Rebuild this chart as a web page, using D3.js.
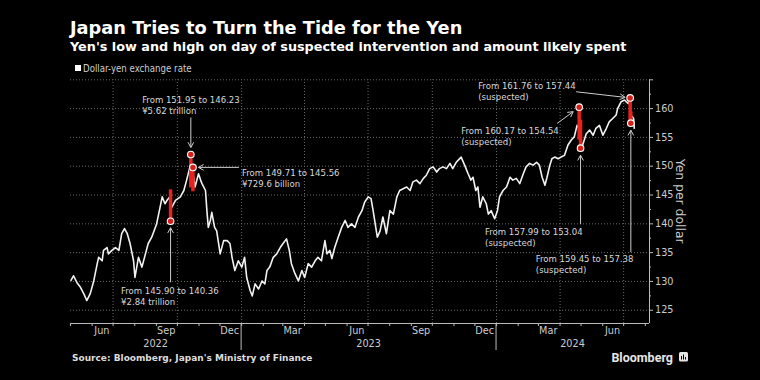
<!DOCTYPE html>
<html><head><meta charset="utf-8">
<script src="https://cdn.jsdelivr.net/npm/d3@7"></script>
<style>
html,body{margin:0;padding:0;background:#000;}
svg{display:block;background:#000;}
.cond{font-family:"DejaVu Sans Condensed","DejaVu Sans",sans-serif;font-stretch:condensed;}
.dv{font-family:"DejaVu Sans",sans-serif;}
</style></head>
<body>
<svg id="chart" width="760" height="380"></svg>
<script>
// ---------------- DATA ----------------
const dates = [
"2022-05-02","2022-05-06","2022-05-11","2022-05-16","2022-05-21","2022-05-25","2022-05-30","2022-06-04","2022-06-09","2022-06-11",
"2022-06-16","2022-06-18","2022-06-23","2022-06-25","2022-06-30","2022-07-05","2022-07-10","2022-07-14","2022-07-18","2022-07-22",
"2022-07-26","2022-07-31","2022-08-02","2022-08-07","2022-08-12","2022-08-17","2022-08-21","2022-08-26","2022-09-02","2022-09-07",
"2022-09-10","2022-09-14","2022-09-17","2022-09-21","2022-09-22","2022-09-29","2022-10-06","2022-10-11","2022-10-15","2022-10-20",
"2022-10-21","2022-10-24","2022-10-27","2022-11-01","2022-11-04","2022-11-06","2022-11-11","2022-11-13","2022-11-15","2022-11-18",
"2022-11-20","2022-11-24","2022-11-27","2022-12-02","2022-12-07","2022-12-12","2022-12-16","2022-12-19","2022-12-23","2022-12-28",
"2023-01-02","2023-01-06","2023-01-09","2023-01-14","2023-01-17","2023-01-21","2023-01-26","2023-01-31","2023-02-04","2023-02-07",
"2023-02-11","2023-02-16","2023-02-21","2023-02-26","2023-03-02","2023-03-07","2023-03-11","2023-03-14","2023-03-19","2023-03-24",
"2023-03-29","2023-04-02","2023-04-07","2023-04-12","2023-04-17","2023-04-21","2023-04-26","2023-05-01","2023-05-04","2023-05-08",
"2023-05-11","2023-05-15","2023-05-20","2023-05-25","2023-05-30","2023-06-03","2023-06-08","2023-06-13","2023-06-18","2023-06-23",
"2023-06-27","2023-07-02","2023-07-06","2023-07-09","2023-07-12","2023-07-15","2023-07-19","2023-07-23","2023-07-28","2023-08-02",
"2023-08-07","2023-08-12","2023-08-16","2023-08-21","2023-08-26","2023-08-31","2023-09-04","2023-09-09","2023-09-14","2023-09-19",
"2023-09-23","2023-09-28","2023-10-03","2023-10-08","2023-10-12","2023-10-17","2023-10-22","2023-10-27","2023-10-31","2023-11-05",
"2023-11-12","2023-11-17","2023-11-22","2023-11-26","2023-11-29","2023-12-03","2023-12-06","2023-12-09","2023-12-13","2023-12-18",
"2023-12-21","2023-12-25","2023-12-30","2024-01-03","2024-01-06","2024-01-11","2024-01-16","2024-01-21","2024-01-25","2024-01-30",
"2024-02-04","2024-02-09","2024-02-13","2024-02-18","2024-02-23","2024-02-28","2024-03-03","2024-03-07","2024-03-11","2024-03-14",
"2024-03-18","2024-03-21","2024-03-25","2024-03-30","2024-04-03","2024-04-08","2024-04-13","2024-04-18","2024-04-22","2024-04-26",
"2024-04-29","2024-04-30","2024-05-01","2024-05-03","2024-05-09","2024-05-14","2024-05-19","2024-05-23","2024-05-28","2024-06-02",
"2024-06-07","2024-06-11","2024-06-16","2024-06-21","2024-06-23","2024-06-28","2024-07-03","2024-07-08","2024-07-10","2024-07-11",
"2024-07-16","2024-07-17"
];
const rates = [
130.0,130.9,129.7,128.9,127.7,126.6,127.8,130.0,133.0,134.1,
133.5,135.3,135.8,134.7,135.3,135.8,135.3,138.2,139.1,138.2,
136.5,133.5,130.6,134.1,132.4,134.7,136.5,137.6,139.9,142.8,
144.6,143.4,144.0,144.6,142.4,144.0,144.6,145.7,147.5,149.9,
147.6,148.8,146.3,148.6,147.5,146.9,145.7,142.2,139.3,140.5,
141.9,139.3,138.7,134.7,137.0,137.0,136.5,134.1,131.8,133.5,
132.4,134.1,130.6,128.3,127.4,129.5,128.6,130.0,129.5,131.8,
132.4,134.1,134.7,135.8,136.5,137.3,135.3,133.0,131.3,130.0,
131.8,130.6,133.0,132.4,133.5,134.1,133.5,137.0,134.7,135.3,
133.9,135.8,137.6,139.3,140.5,139.3,139.9,139.3,141.1,142.2,
143.7,144.6,144.3,142.2,139.9,137.6,138.7,141.1,138.2,142.2,
141.6,144.6,145.7,146.0,146.3,145.7,147.2,147.5,146.9,147.8,
148.3,149.5,149.8,148.9,149.5,149.8,149.5,150.4,149.5,150.6,
151.5,150.1,148.6,147.5,148.0,145.7,146.3,142.8,144.6,143.4,
141.6,142.2,140.8,142.2,144.6,145.7,146.3,148.0,147.5,147.8,
146.9,148.6,149.8,150.4,150.1,150.6,150.1,148.0,146.6,148.0,
150.1,151.2,151.5,151.2,151.5,151.8,153.6,154.5,155.0,157.0,
156.4,157.6,155.2,153.2,155.5,156.2,155.3,156.5,157.0,155.3,
156.5,157.6,158.2,158.8,159.9,161.1,161.4,160.8,161.6,159.0,
158.2,156.4
];
// suspected / confirmed intervention days
const eventDates  = ["2022-09-22","2022-10-21","2022-10-24","2024-04-29","2024-05-01","2024-07-11","2024-07-12"];
const eventHigh   = [145.90,151.95,149.71,160.17,157.99,161.76,159.45];
const eventLow    = [140.36,146.23,145.56,154.54,153.04,157.44,157.38];
const eventNote   = ["¥2.84 trillion","¥5.62 trillion","¥729.6 billion","(suspected)","(suspected)","(suspected)","(suspected)"];
const eventMarker = ["low","high","high","high","low","high","low"];

const yTicks = [125,130,135,140,145,150,155,160,165];
const yTickLabels = ["125","130","135","140","145","150","155","160",""];
const monthLabelDates = ["2022-06-15","2022-09-15","2022-12-15","2023-03-15","2023-06-15","2023-09-15","2023-12-15","2024-03-15","2024-06-15"];
const monthLabels = ["Jun","Sep","Dec","Mar","Jun","Sep","Dec","Mar","Jun"];
const yearLabels = ["2022","2023","2024"];

const titleText = "Japan Tries to Turn the Tide for the Yen";
const subtitleText = "Yen's low and high on day of suspected intervention and amount likely spent";
const legendText = "Dollar-yen exchange rate";
const yAxisTitle = "Yen per dollar";
const sourceText = "Source: Bloomberg, Japan's Ministry of Finance";

// ---------------- LAYOUT ----------------
const parse = d3.utcParse("%Y-%m-%d");
const L = 70, R = 649, T = 79.3, B = 323;
const svg = d3.select("#chart");

const x = d3.scaleUtc()
  .domain([parse("2022-05-01"), parse("2024-08-07")])
  .range([L, R]);
const y = d3.scaleLinear().domain([122.7, 165]).range([B, T]);

const series = dates.map((d, i) => ({date: parse(d), v: rates[i]}));
const events = eventDates.map((d, i) => ({
  date: parse(d), hi: eventHigh[i], lo: eventLow[i], note: eventNote[i], marker: eventMarker[i]
}));

// titles
svg.append("text").attr("class","dv").attr("x",70).attr("y",34.3)
  .attr("fill","#fff").attr("font-weight","bold").attr("font-size",17.8).text(titleText);
svg.append("text").attr("class","dv").attr("x",70).attr("y",51)
  .attr("fill","#fff").attr("font-weight","bold").attr("font-size",12.8).text(subtitleText);
// legend
svg.append("rect").attr("x",75).attr("y",65).attr("width",6).attr("height",6).attr("fill","#fff");
svg.append("text").attr("class","cond").attr("x",83).attr("y",71.6)
  .attr("fill","#ccc").attr("font-size",9.6).text(legendText);

// gridlines
const grid = svg.append("g");
grid.append("g").attr("transform",`translate(${L},0)`)
  .call(d3.axisLeft(y).tickValues(yTicks).tickSize(-(R-L)).tickFormat(""))
  .call(g => g.select(".domain").remove())
  .call(g => g.selectAll("line").attr("stroke","#6a6a6a").attr("stroke-dasharray","1,2"));
grid.append("g").attr("transform",`translate(0,${B})`)
  .call(d3.axisBottom(x).ticks(d3.utcMonth.every(3)).tickSize(-(B-T)).tickFormat(""))
  .call(g => g.select(".domain").remove())
  .call(g => g.selectAll("line").attr("stroke","#6a6a6a").attr("stroke-dasharray","1,2"));

// x axis: month ticks
const xAxis = svg.append("g").attr("transform",`translate(0,${B})`)
  .call(d3.axisBottom(x).ticks(d3.utcMonth.every(1)).tickSize(3).tickFormat("").tickSizeOuter(0));
xAxis.select(".domain").attr("stroke","#bbb").attr("d",`M${L},0.5H${R}`);
xAxis.selectAll("line").attr("stroke","#bbb");
// month labels (mid-month)
const xLab = svg.append("g").attr("transform",`translate(0,${B})`)
  .call(d3.axisBottom(x).tickValues(monthLabelDates.map(parse))
        .tickFormat((d,i) => monthLabels[i]).tickSize(0).tickPadding(4));
xLab.select(".domain").remove();
xLab.selectAll("text").attr("class","dv").attr("fill","#ccc").attr("font-size",9.7)
  .attr("dy",null).attr("y",11);
// year separators & labels
const [d0, d1] = x.domain();
const yearStarts = yearLabels.map(yy => parse(yy + "-01-01"));
svg.append("g").selectAll("line").data(yearStarts.filter(d => d > d0 && d < d1)).join("line")
  .attr("x1", d => x(d)).attr("x2", d => x(d)).attr("y1", B).attr("y2", B + 27)
  .attr("stroke","#bbb");
svg.append("g").selectAll("text").data(yearLabels).join("text")
  .attr("class","dv")
  .attr("x", (yy) => {
    const s = d3.max([parse(yy + "-01-01"), d0]);
    const e = d3.min([parse((+yy + 1) + "-01-01"), d1]);
    return (x(s) + x(e)) / 2;
  })
  .attr("y", B + 24).attr("text-anchor","middle").attr("fill","#ccc").attr("font-size",9.7)
  .text(d => d);

// y axis right
const yAxis = svg.append("g").attr("transform",`translate(${R},0)`)
  .call(d3.axisRight(y).tickValues(yTicks).tickFormat((d,i) => yTickLabels[i]).tickSize(4).tickSizeOuter(0).tickPadding(2));
yAxis.select(".domain").attr("stroke","#bbb").attr("d",`M0.5,${T}V${B}`);
yAxis.selectAll("line").attr("stroke","#bbb");
yAxis.selectAll("text").attr("class","dv").attr("fill","#ccc").attr("font-size",9.7);
const yMinor = svg.append("g").attr("transform",`translate(${R},0)`)
  .call(d3.axisRight(y).tickValues(yTicks.slice(0,-1).map(v => v + 2.5)).tickFormat("").tickSize(2));
yMinor.select(".domain").remove();
yMinor.selectAll("line").attr("stroke","#bbb");
svg.append("text").attr("class","dv")
  .attr("transform",`translate(${R+27},${(T+B)/2}) rotate(90)`)
  .attr("text-anchor","middle").attr("fill","#ccc").attr("font-size",12.4).text(yAxisTitle);

// main line
const line = d3.line().x(d => x(d.date)).y(d => y(d.v));
svg.append("path").datum(series).attr("d", line)
  .attr("fill","none").attr("stroke","#f2f2f2").attr("stroke-width",1.6).attr("stroke-linejoin","round");

// red bars
svg.append("g").selectAll("rect").data(events).join("rect")
  .attr("x", d => x(d.date) - 1.75).attr("width", 3.5)
  .attr("y", d => y(d.hi)).attr("height", d => y(d.lo) - y(d.hi))
  .attr("fill","#e8231f");

// annotation layout: offsets from the marked point (arrow tail, arrow tip, text anchor)
const annLayout = [
  {tail:[0,61],   tip:[0,6.5],   text:[-49.5,72.3]},
  {tail:[0,-37],  tip:[0,-7],    text:[-48.7,-51.5]},
  {tail:[46,0],   tip:[5.5,0],   text:[49,8.7]},
  {tail:[-22,16.3], tip:[-6,4.5], text:[-118,27.3]},
  {tail:[0,76],   tip:[0,7],     text:[-95.5,87]},
  {tail:[-54,-6.2], tip:[-5,-0.6], text:[-152,-9]},
  {tail:[0,129],  tip:[0,7],     text:[-95,138.7]}
];
const ann = svg.append("g");
function arrow(x1,y1,x2,y2){
  const a = Math.atan2(y2-y1, x2-x1), len = 6, sp = 0.5;
  ann.append("line").attr("x1",x1).attr("y1",y1).attr("x2",x2).attr("y2",y2)
    .attr("stroke","#ccc").attr("stroke-width",1);
  ann.append("path")
    .attr("d",`M${x2 - len*Math.cos(a-sp)},${y2 - len*Math.sin(a-sp)}L${x2},${y2}L${x2 - len*Math.cos(a+sp)},${y2 - len*Math.sin(a+sp)}`)
    .attr("fill","none").attr("stroke","#ccc").attr("stroke-width",1);
}
events.forEach((e, i) => {
  const px = x(e.date), py = y(e.marker === "high" ? e.hi : e.lo);
  const lay = annLayout[i];
  arrow(px + lay.tail[0], py + lay.tail[1], px + lay.tip[0], py + lay.tip[1]);
  const t = ann.append("text").attr("class","cond").attr("fill","#d8d8d8").attr("font-size",9.5)
    .attr("x", px + lay.text[0]).attr("y", py + lay.text[1]);
  t.append("tspan").attr("x", px + lay.text[0]).text(`From ${e.hi.toFixed(2)} to ${e.lo.toFixed(2)}`);
  t.append("tspan").attr("x", px + lay.text[0]).attr("dy", 11).text(e.note);
});

// markers
svg.append("g").selectAll("circle").data(events).join("circle")
  .attr("cx", d => x(d.date)).attr("cy", d => y(d.marker === "high" ? d.hi : d.lo))
  .attr("r", 3.3).attr("fill","#d51f1a").attr("stroke","#fff").attr("stroke-width",1.1);

// footer
svg.append("text").attr("class","dv").attr("x",72).attr("y",360.5)
  .attr("fill","#ddd").attr("font-weight","bold").attr("font-size",9).text(sourceText);
svg.append("text").attr("x",673).attr("y",361.5).attr("text-anchor","end")
  .attr("font-family","Roboto, sans-serif").attr("font-weight","bold").attr("font-size",12.5)
  .attr("fill","#e6e6e6").text("Bloomberg");
const logo = svg.append("g").attr("transform","translate(679,352)");
logo.append("rect").attr("width",9).attr("height",9.5).attr("rx",1.5).attr("fill","#e6e6e6");
[[2,4,1],[4,2.5,1],[6,5,1]].forEach(([bx,by,bw]) =>
  logo.append("rect").attr("x",bx).attr("y",by).attr("width",bw).attr("height",7.5-by).attr("fill","#000"));
</script>
</body></html>
